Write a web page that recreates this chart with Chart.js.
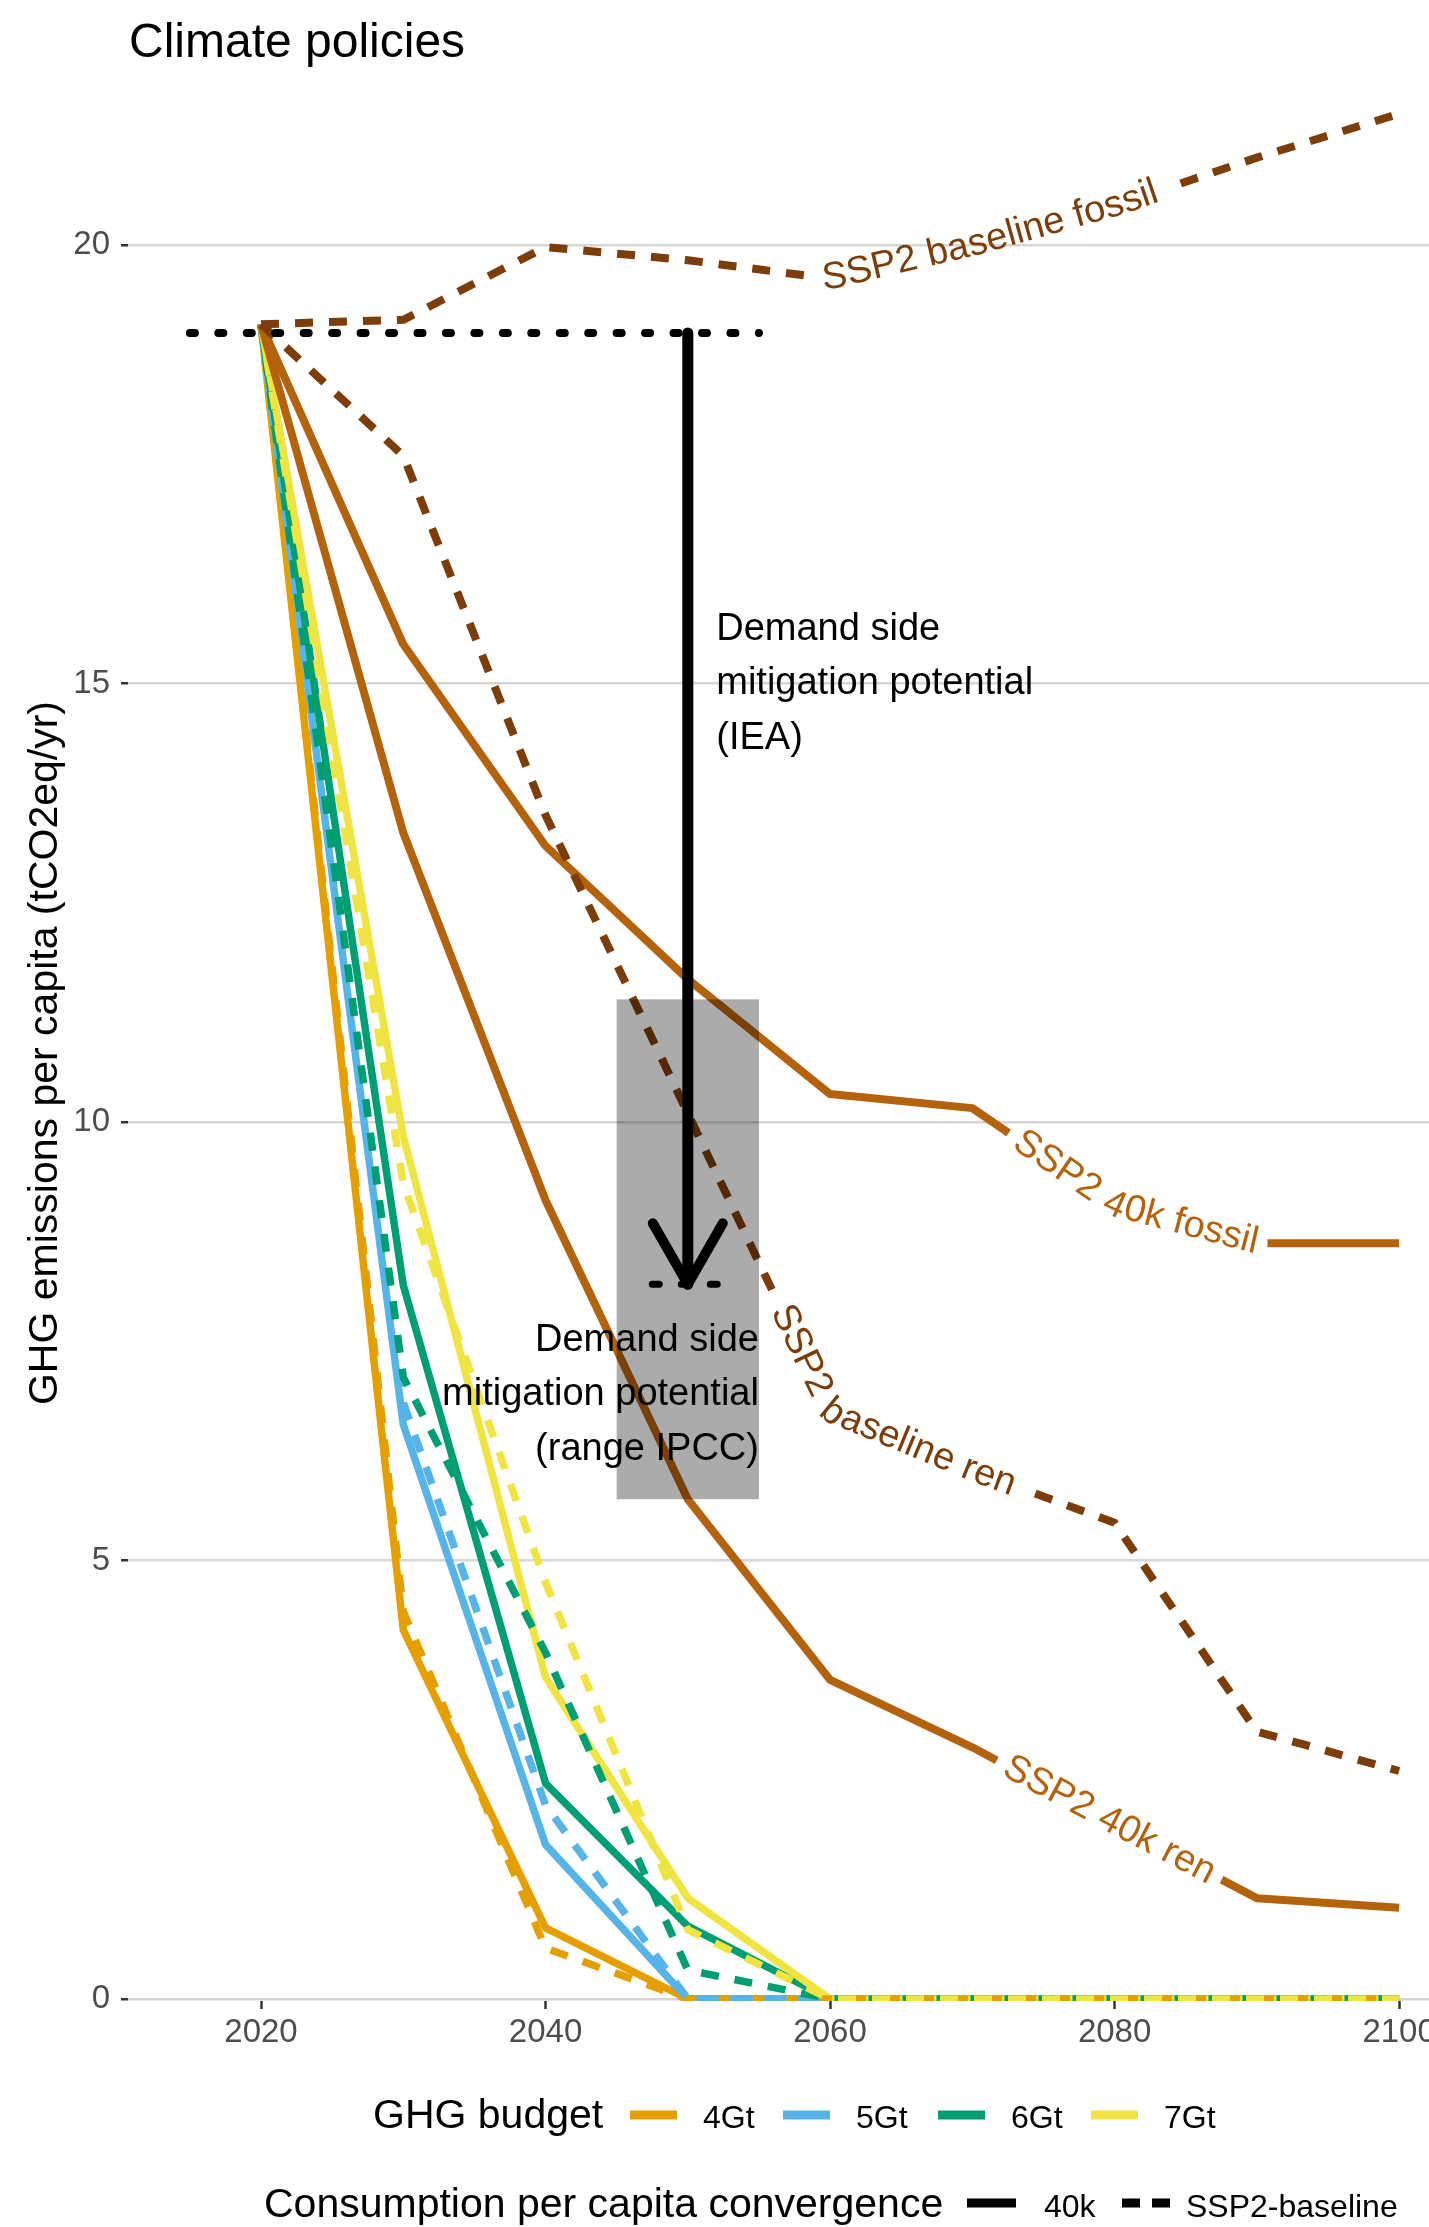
<!DOCTYPE html>
<html>
<head>
<meta charset="utf-8">
<title>Climate policies</title>
<script src="https://cdn.jsdelivr.net/npm/chart.js@4.4.1/dist/chart.umd.min.js"></script>
<style>
  html, body { margin: 0; padding: 0; background: #fff; overflow: hidden; }
  canvas { display: block; }
</style>
</head>
<body>
<canvas id="policyChart" width="1429" height="2227"></canvas>
<script>
const FONT = "'Liberation Sans', Arial, Helvetica, sans-serif";

// decades on the x axis
const years = [2020, 2030, 2040, 2050, 2060, 2070, 2080, 2090, 2100];
const xTicks = [2020, 2040, 2060, 2080, 2100];
const yTicks = [0, 5, 10, 15, 20];

// GHG budget pathways (tCO2eq/yr per capita), consumption converging to 40k
const budget4Gt40k = [19.1, 4.21, 0.81, 0, 0, 0, 0, 0, 0];
const budget5Gt40k = [19.1, 6.55, 1.76, 0, 0, 0, 0, 0, 0];
const budget6Gt40k = [19.1, 8.14, 2.46, 0.83, 0, 0, 0, 0, 0];
const budget7Gt40k = [19.1, 9.84, 3.67, 1.15, 0, 0, 0, 0, 0];

// same budgets with SSP2-baseline consumption
const budget4GtSsp2 = [19.1, 4.42, 0.58, 0, 0, 0, 0, 0, 0];
const budget5GtSsp2 = [19.1, 6.8, 2.21, 0, 0, 0, 0, 0, 0];
const budget6GtSsp2 = [19.1, 7.09, 3.95, 0.33, 0, 0, 0, 0, 0];
const budget7GtSsp2 = [19.1, 9.3, 4.75, 0.79, 0, 0, 0, 0, 0];

// SSP2 runs without a budget
const ssp2BaselineFossil = [19.1, 19.15, 19.98, 19.83, 19.62, 20.0, 20.45, 21.0, 21.5];
const ssp2BaselineRen = [19.1, 17.6, 13.5, 10.1, 6.7, 6.03, 5.43, 3.05, 2.6];
const ssp2Fossil40k = [19.1, 15.45, 13.15, 11.63, 10.32, 10.16, 9.05, 8.62, 8.62];
const ssp2Ren40k = [19.1, 13.3, 9.11, 5.7, 3.64, 2.87, 2.0, 1.15, 1.04];

// demand side mitigation potential
const ieaYears = [2015, 2055];
const ieaLevel = 19.0;
const arrowYear = 2050;
const arrowEnd = 8.15;
const tipYears = [2047.5, 2052.5];
const ipccYears = [2045, 2055];
const ipccRange = [5.7, 11.4];
const ieaText = ['Demand side', 'mitigation potential', '(IEA)'];
const ipccText = ['Demand side', 'mitigation potential', '(range IPCC)'];

const budgetNames = ['4Gt', '5Gt', '6Gt', '7Gt'];
const budgetColors = ['#E69F00', '#56B4E9', '#009E73', '#F0E442'];
const fossilBrown = '#B5620D';
const baselineBrown = '#7D3D08';
const DASH = [18, 16];

const pts = vals => years.map((x, i) => ({x, y: vals[i]}));
const line = (data, color, dash, extra) => Object.assign({
  data, borderColor: color, borderWidth: 8, borderDash: dash || [],
  borderCapStyle: 'butt', borderJoinStyle: 'round',
  pointRadius: 0, tension: 0, fill: false
}, extra || {});

// first dataset is painted last (on top)
const datasets = [
  line([{x: arrowYear, y: ieaLevel}, {x: arrowYear, y: arrowEnd}], '#000', null,
       {borderWidth: 11, borderCapStyle: 'round'}),
  line(tipYears.map(x => ({x, y: arrowEnd})), '#000', [7, 22],
       {borderWidth: 7, borderCapStyle: 'round'}),
  line(ieaYears.map(x => ({x, y: ieaLevel})), '#000', [5, 23.45],
       {borderWidth: 8, borderCapStyle: 'round'}),
  line(pts(ssp2BaselineFossil), baselineBrown, DASH,
       {pathLabel: {text: 'SSP2 baseline fossil', at: 2071.3}}),
  line(pts(ssp2BaselineRen), baselineBrown, DASH,
       {pathLabel: {text: 'SSP2 baseline ren', at: 2062.7}}),
  line(pts(ssp2Fossil40k), fossilBrown, null,
       {pathLabel: {text: 'SSP2 40k fossil', at: 2081}}),
  line(pts(ssp2Ren40k), fossilBrown, null,
       {pathLabel: {text: 'SSP2 40k ren', at: 2079.6}}),
  line(pts(budget7GtSsp2), budgetColors[3], DASH, {borderWidth: 7.5}),
  line(pts(budget6GtSsp2), budgetColors[2], DASH, {borderWidth: 7.5}),
  line(pts(budget5GtSsp2), budgetColors[1], DASH, {borderWidth: 7.5}),
  line(pts(budget4GtSsp2), budgetColors[0], DASH, {borderWidth: 7.5}),
  line(pts(budget7Gt40k), budgetColors[3], null, {borderWidth: 7.5}),
  line(pts(budget6Gt40k), budgetColors[2], null, {borderWidth: 7.5}),
  line(pts(budget5Gt40k), budgetColors[1], null, {borderWidth: 7.5}),
  line(pts(budget4Gt40k), budgetColors[0], null, {borderWidth: 7.5})
];

// --- helpers for text set along a line ---
function polyline(meta) {
  const p = meta.data.map(e => ({x: e.x, y: e.y}));
  const cum = [0];
  for (let i = 1; i < p.length; i++) {
    cum.push(cum[i - 1] + Math.hypot(p[i].x - p[i - 1].x, p[i].y - p[i - 1].y));
  }
  return {p, cum};
}

function pointAt(path, s) {
  const {p, cum} = path;
  let i = 0;
  while (i < p.length - 2 && cum[i + 1] < s) i++;
  const t = (s - cum[i]) / ((cum[i + 1] - cum[i]) || 1);
  return {x: p[i].x + t * (p[i + 1].x - p[i].x), y: p[i].y + t * (p[i + 1].y - p[i].y)};
}

function arcAtX(path, px) {
  const {p, cum} = path;
  for (let i = 0; i < p.length - 1; i++) {
    if (px >= p[i].x && px <= p[i + 1].x) {
      const t = (px - p[i].x) / ((p[i + 1].x - p[i].x) || 1);
      return cum[i] + t * (cum[i + 1] - cum[i]);
    }
  }
  return cum[cum.length - 1] / 2;
}

const LABEL_SIZE = 38;
const LABEL_GAP = 10;

function labelLayout(chart, meta, label) {
  const ctx = chart.ctx;
  const path = polyline(meta);
  ctx.save();
  ctx.font = LABEL_SIZE + 'px ' + FONT;
  const total = ctx.measureText(label.text).width;
  const start = arcAtX(path, chart.scales.x.getPixelForValue(label.at)) - total / 2;
  const glyphs = [...label.text].map((ch, k) => {
    const w = ctx.measureText(ch).width;
    return {ch, w, s: start + ctx.measureText(label.text.slice(0, k)).width + w / 2};
  });
  ctx.restore();
  return {path, start, end: start + total, glyphs};
}

const pathLabels = {
  id: 'pathLabels',
  beforeDatasetDraw(chart, args) {
    const label = chart.data.datasets[args.index].pathLabel;
    if (!label) return;
    const {path, start, end} = labelLayout(chart, args.meta, label);
    const a = start - LABEL_GAP, b = end + LABEL_GAP;
    const {p, cum} = path;
    const ctx = chart.ctx;
    ctx.save();
    // cut the line where its text sits
    for (let i = 0; i < p.length - 1; i++) {
      const s0 = Math.max(a, cum[i]), s1 = Math.min(b, cum[i + 1]);
      if (s1 <= s0) continue;
      const len = cum[i + 1] - cum[i];
      const ux = (p[i + 1].x - p[i].x) / len, uy = (p[i + 1].y - p[i].y) / len;
      const nx = -uy * 14, ny = ux * 14;
      const d0 = s0 - cum[i] - (s0 > a ? 6 : 0);
      const d1 = s1 - cum[i] + (s1 < b ? 6 : 0);
      const A = {x: p[i].x + ux * d0, y: p[i].y + uy * d0};
      const B = {x: p[i].x + ux * d1, y: p[i].y + uy * d1};
      ctx.beginPath();
      ctx.rect(0, 0, chart.width, chart.height);
      ctx.moveTo(A.x + nx, A.y + ny);
      ctx.lineTo(B.x + nx, B.y + ny);
      ctx.lineTo(B.x - nx, B.y - ny);
      ctx.lineTo(A.x - nx, A.y - ny);
      ctx.closePath();
      ctx.clip('evenodd');
    }
  },
  afterDatasetDraw(chart, args) {
    if (chart.data.datasets[args.index].pathLabel) chart.ctx.restore();
  },
  afterDatasetsDraw(chart) {
    const ctx = chart.ctx;
    const x = chart.scales.x, y = chart.scales.y;

    // IPCC range box
    const bx0 = x.getPixelForValue(ipccYears[0]), bx1 = x.getPixelForValue(ipccYears[1]);
    const by0 = y.getPixelForValue(ipccRange[1]), by1 = y.getPixelForValue(ipccRange[0]);
    ctx.save();
    ctx.fillStyle = 'rgba(0,0,0,0.33)';
    ctx.fillRect(bx0, by0, bx1 - bx0, by1 - by0);

    // arrow head
    const tx = x.getPixelForValue(arrowYear), ty = y.getPixelForValue(arrowEnd);
    ctx.strokeStyle = '#000';
    ctx.lineWidth = 10;
    ctx.lineCap = 'round';
    ctx.lineJoin = 'round';
    ctx.beginPath();
    ctx.moveTo(tx - 35, ty - 61);
    ctx.lineTo(tx, ty);
    ctx.lineTo(tx + 35, ty - 61);
    ctx.stroke();

    // annotation texts
    ctx.fillStyle = '#000';
    ctx.font = LABEL_SIZE + 'px ' + FONT;
    ctx.textBaseline = 'middle';
    const lh = 54.5;
    ctx.textAlign = 'left';
    const iy = y.getPixelForValue(15.0);
    ieaText.forEach((t, k) => ctx.fillText(t, x.getPixelForValue(2052), iy + (k - 1) * lh));
    ctx.textAlign = 'right';
    const py = y.getPixelForValue(6.89);
    ipccText.forEach((t, k) => ctx.fillText(t, x.getPixelForValue(2055), py + (k - 1) * lh));

    // line labels
    ctx.textAlign = 'center';
    chart.data.datasets.forEach((ds, i) => {
      if (!ds.pathLabel) return;
      const {path, glyphs} = labelLayout(chart, chart.getDatasetMeta(i), ds.pathLabel);
      ctx.fillStyle = ds.borderColor;
      ctx.font = LABEL_SIZE + 'px ' + FONT;
      glyphs.forEach(g => {
        const c = pointAt(path, g.s);
        const q0 = pointAt(path, g.s - g.w * 0.6), q1 = pointAt(path, g.s + g.w * 0.6);
        ctx.save();
        ctx.translate(c.x, c.y);
        ctx.rotate(Math.atan2(q1.y - q0.y, q1.x - q0.x));
        ctx.fillText(g.ch, 0, 0);
        ctx.restore();
      });
    });
    ctx.restore();
  }
};

// title and the two legend rows
const decorations = {
  id: 'decorations',
  afterDraw(chart) {
    const ctx = chart.ctx;
    ctx.save();
    ctx.fillStyle = '#000';
    ctx.textBaseline = 'alphabetic';
    ctx.textAlign = 'left';
    ctx.font = '48px ' + FONT;
    ctx.fillText('Climate policies', 129, 57);

    ctx.font = '41px ' + FONT;
    ctx.fillText('GHG budget', 373, 2128);
    ctx.fillText('Consumption per capita convergence', 264, 2217);

    ctx.font = '32px ' + FONT;
    const keyX = [630, 783, 938, 1091];
    budgetNames.forEach((name, i) => {
      ctx.strokeStyle = budgetColors[i];
      ctx.lineWidth = 9;
      ctx.beginPath();
      ctx.moveTo(keyX[i], 2115);
      ctx.lineTo(keyX[i] + 47, 2115);
      ctx.stroke();
      ctx.fillText(name, keyX[i] + 73, 2128);
    });

    ctx.strokeStyle = '#000';
    ctx.lineWidth = 9;
    ctx.beginPath();
    ctx.moveTo(967, 2203);
    ctx.lineTo(1016, 2203);
    ctx.stroke();
    ctx.fillText('40k', 1044, 2217);
    ctx.setLineDash([18, 12]);
    ctx.beginPath();
    ctx.moveTo(1122, 2203);
    ctx.lineTo(1171, 2203);
    ctx.stroke();
    ctx.setLineDash([]);
    ctx.fillText('SSP2-baseline', 1186, 2217);
    ctx.restore();
  }
};

new Chart(document.getElementById('policyChart'), {
  type: 'line',
  data: {datasets},
  options: {
    responsive: false,
    devicePixelRatio: 1,
    animation: false,
    events: [],
    layout: {padding: {top: 105, left: 0, right: 0, bottom: 0}},
    plugins: {legend: {display: false}, tooltip: {enabled: false}},
    scales: {
      x: {
        type: 'linear',
        min: 2010.65,
        max: 2102.1,
        afterBuildTicks: s => { s.ticks = xTicks.map(value => ({value})); },
        afterFit: s => { s.height = 226; s.paddingLeft = 0; s.paddingRight = 0; },
        border: {display: false},
        grid: {drawOnChartArea: false, drawTicks: true, tickLength: 8, tickColor: '#333', tickWidth: 2.5},
        ticks: {
          font: {family: FONT, size: 33}, color: '#4d4d4d', padding: 4,
          maxRotation: 0, autoSkip: false, callback: v => String(v)
        }
      },
      y: {
        min: -0.023,
        max: 21.6,
        afterBuildTicks: s => { s.ticks = yTicks.map(value => ({value})); },
        afterFit: s => { s.width = 128; s.paddingTop = 0; s.paddingBottom = 0; },
        border: {display: false},
        grid: {color: '#d6d6d6', lineWidth: 2.5, tickColor: '#333', tickLength: 7, tickWidth: 2.5},
        ticks: {font: {family: FONT, size: 33}, color: '#4d4d4d', padding: 11, callback: v => String(v)},
        title: {
          display: true,
          text: 'GHG emissions per capita (tCO2eq/yr)',
          font: {family: FONT, size: 41},
          color: '#000',
          padding: {top: 21, bottom: 0}
        }
      }
    }
  },
  plugins: [pathLabels, decorations]
});
</script>
</body>
</html>
